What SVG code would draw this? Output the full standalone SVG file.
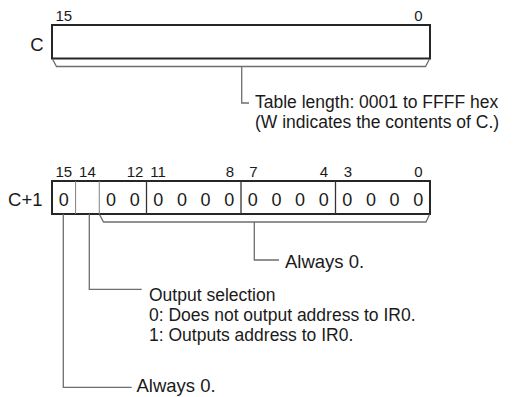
<svg xmlns="http://www.w3.org/2000/svg" width="516" height="397" viewBox="0 0 516 397">
<style>
text{font-family:"Liberation Sans",Arial,sans-serif;fill:#1a1a1a}
.t{font-size:18.5px}
.m{font-size:17.5px}
.b{font-size:15px;text-anchor:middle}
.v{font-size:18px;text-anchor:middle}
.reg{fill:#fff;stroke:#262626;stroke-width:2}
.div{stroke:#808080;stroke-width:1}
.nib{stroke:#333;stroke-width:1.3}
.con{fill:none;stroke:#6e6e6e;stroke-width:1.3}
</style>
<rect width="516" height="397" fill="#fff"/>
<g id="reg-C">
<rect class="reg" x="52" y="25" width="378" height="33.5"/>
<text class="t" x="43.5" y="50.5" text-anchor="end">C</text>
<text class="b" x="63.8" y="21">15</text>
<text class="b" x="418.5" y="21">0</text>
</g>
<g id="reg-C1">
<rect class="reg" x="52" y="181" width="378" height="33"/>
<line class="div" x1="75.6" y1="181" x2="75.6" y2="214"/>
<line class="div" x1="99.25" y1="181" x2="99.25" y2="214"/>
<line class="nib" x1="146.5" y1="181" x2="146.5" y2="214"/>
<line class="nib" x1="241" y1="181" x2="241" y2="214"/>
<line class="nib" x1="335.5" y1="181" x2="335.5" y2="214"/>
<text class="t" x="42.5" y="205.5" text-anchor="end">C+1</text>
<g class="bits">
<text class="b" x="63.8" y="177.3">15</text>
<text class="b" x="87.4" y="177.3">14</text>
<text class="b" x="135" y="177.3">12</text>
<text class="b" x="158" y="177.3">11</text>
<text class="b" x="230" y="177.3">8</text>
<text class="b" x="253.5" y="177.3">7</text>
<text class="b" x="324" y="177.3">4</text>
<text class="b" x="348" y="177.3">3</text>
<text class="b" x="418.5" y="177.3">0</text>
</g>
<g class="vals">
<text class="v" x="63.8" y="206">0</text>
<text class="v" x="111.06" y="206">0</text>
<text class="v" x="134.69" y="206">0</text>
<text class="v" x="158.31" y="206">0</text>
<text class="v" x="181.94" y="206">0</text>
<text class="v" x="205.56" y="206">0</text>
<text class="v" x="229.19" y="206">0</text>
<text class="v" x="252.81" y="206">0</text>
<text class="v" x="276.44" y="206">0</text>
<text class="v" x="300.06" y="206">0</text>
<text class="v" x="323.69" y="206">0</text>
<text class="v" x="347.31" y="206">0</text>
<text class="v" x="370.94" y="206">0</text>
<text class="v" x="394.56" y="206">0</text>
<text class="v" x="418.19" y="206">0</text>
</g>
</g>
<g id="connectors">
<path class="con" d="M52.5,59 L56.5,66.5 L425.5,66.5 L429.5,59"/>
<path class="con" d="M241.7,66.5 V103 H249"/>
<path class="con" d="M99.5,214.5 L103.5,222 L426,222 L429.5,214.5"/>
<path class="con" d="M254.3,222 V260 H279"/>
<path class="con" d="M89.3,214 V289.3 H141.7"/>
<path class="con" d="M63.3,214 V387.3 H131.7"/>
</g>
<g id="label-length">
<text class="m" x="255" y="108">Table length: 0001 to FFFF hex<tspan x="255" dy="19.8">(W indicates the contents of C.)</tspan></text>
</g>
<g id="label-always-nibbles">
<text class="t" x="285" y="268">Always 0.</text>
</g>
<g id="label-output">
<text class="m" x="149" y="301">Output selection<tspan x="149" dy="19.8">0: Does not output address to IR0.</tspan><tspan x="149" dy="19.8">1: Outputs address to IR0.</tspan></text>
</g>
<g id="label-always-15">
<text class="t" x="136.5" y="391.5">Always 0.</text>
</g>
</svg>
